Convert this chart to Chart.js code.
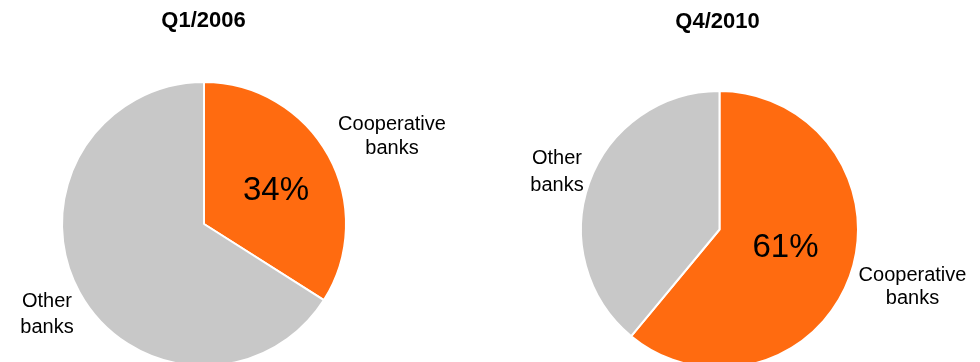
<!DOCTYPE html>
<html>
<head>
<meta charset="utf-8">
<script src="https://cdn.jsdelivr.net/npm/chart.js@4.4.1/dist/chart.umd.min.js"></script>
<style>
  html, body { margin: 0; padding: 0; background: #fff; }
  body { width: 980px; height: 362px; overflow: hidden; position: relative; }
  canvas { position: absolute; top: 0; }
  #c1 { left: 0; }
  #c2 { left: 490px; }
</style>
</head>
<body>
<canvas id="c1" width="490" height="380"></canvas>
<canvas id="c2" width="490" height="380"></canvas>
<script>
// Market share of cooperative banks vs. other banks
const categories = ['Cooperative banks', 'Other banks'];
const periods = ['Q1/2006', 'Q4/2010'];
const shareQ1_2006 = [34, 66];
const shareQ4_2010 = [61, 39];
const sliceColors = ['#FF6B10', '#C8C8C8'];

const FONT = '"Liberation Sans", Arial, Helvetica, sans-serif';

// Draws the period title, the share inside the orange slice and the
// two category labels beside the pie, placed relative to the pie centre.
const pieLabels = {
  id: 'pieLabels',
  afterDatasetsDraw(chart, args, opts) {
    const arc = chart.getDatasetMeta(0).data[0];
    const cx = arc.x, cy = arc.y;
    const ctx = chart.ctx;
    const values = chart.data.datasets[0].data;
    ctx.save();
    ctx.fillStyle = '#000';
    ctx.textAlign = 'center';
    ctx.textBaseline = 'alphabetic';

    ctx.font = 'bold 22px ' + FONT;
    ctx.fillText(opts.title, cx + opts.titlePos[0], cy + opts.titlePos[1]);

    ctx.font = '33px ' + FONT;
    ctx.fillText(values[0] + '%', cx + opts.pctPos[0], cy + opts.pctPos[1]);

    ctx.font = '20px ' + FONT;
    opts.labels.forEach(l => {
      l.lines.forEach((t, i) => {
        ctx.fillText(t, cx + l.x, cy + l.ys[i]);
      });
    });
    ctx.restore();
  }
};

function splitLabel(name) {
  const parts = name.split(' ');
  return [parts[0], parts.slice(1).join(' ')];
}

function makePie(id, values, padding, labelOpts) {
  return new Chart(document.getElementById(id), {
    type: 'pie',
    data: {
      labels: categories,
      datasets: [{
        data: values,
        backgroundColor: sliceColors,
        borderColor: '#ffffff',
        borderWidth: 2,
        hoverOffset: 0
      }]
    },
    options: {
      responsive: false,
      devicePixelRatio: 1,
      animation: false,
      rotation: 0,
      layout: { padding: padding },
      plugins: {
        legend: { display: false },
        tooltip: { enabled: false },
        title: { display: false },
        pieLabels: labelOpts
      }
    },
    plugins: [pieLabels]
  });
}

makePie('c1', shareQ1_2006,
  { left: 61, right: 143, top: 81, bottom: 13 },
  {
    title: periods[0],
    titlePos: [-0.5, -197],
    pctPos: [72, -24],
    labels: [
      { lines: splitLabel(categories[0]), x: 188, ys: [-94, -70] },
      { lines: splitLabel(categories[1]), x: -157, ys: [83, 109] }
    ]
  });

makePie('c2', shareQ4_2010,
  { left: 90, right: 121, top: 90, bottom: 11 },
  {
    title: periods[1],
    titlePos: [-2, -201.5],
    pctPos: [66, 27.5],
    labels: [
      { lines: splitLabel(categories[0]), x: 193, ys: [51.5, 74.5] },
      { lines: splitLabel(categories[1]), x: -162.5, ys: [-65.5, -38.5] }
    ]
  });
</script>
</body>
</html>
